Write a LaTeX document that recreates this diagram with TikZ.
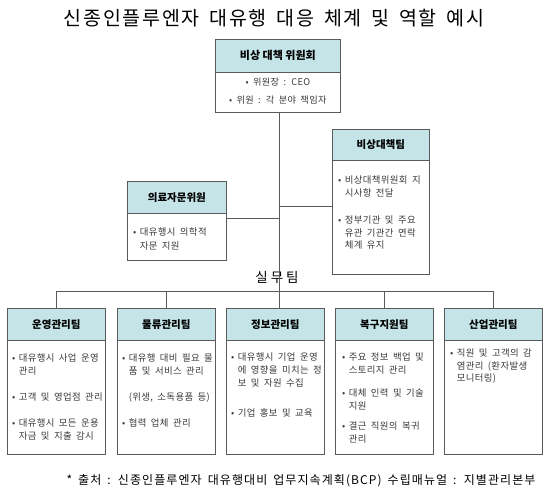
\documentclass[tikz,border=0pt]{standalone}
\usepackage{fontspec}
\setmainfont{Noto Sans CJK KR}
\newfontfamily\widefont{Noto Sans CJK KR}[LetterSpace=4, WordSpace=1.8]
\newfontfamily\titlefont{Noto Sans CJK KR}[LetterSpace=9, WordSpace=1.6]
\usetikzlibrary{positioning,calc}
\definecolor{hdrcyan}{HTML}{C4E4E8}
\definecolor{edge}{HTML}{5A5A5A}
\definecolor{txt}{HTML}{3A3A3A}
\newcommand{\bul}{\makebox[0.7em][l]{•}}
\newcommand{\ind}{\hspace*{0.7em}}
\tikzset{
  unit/.style  = {rectangle, draw=edge, fill=white, line width=0.7pt, anchor=north west,
                  inner sep=0pt, minimum width=98pt},
  head/.style  = {rectangle, draw=edge, fill=hdrcyan, line width=0.7pt, anchor=north,
                  inner sep=0pt, minimum width=98pt, minimum height=32pt,
                  font=\fontsize{10.5}{12}\selectfont\bfseries},
  duty/.style  = {anchor=north west, align=left, inner sep=0pt, text=txt,
                  font=\widefont\fontsize{9.4}{13}\selectfont},
  link/.style  = {draw=edge, line width=0.7pt},
}

\begin{document}
\begin{tikzpicture}[x=1pt, y=-1pt]
  \useasboundingbox (0,0) rectangle (550,500);
  % title
  \node (title) at (274,18) {\titlefont\fontsize{19.5}{22}\selectfont 신종인플루엔자 대유행 대응 체계 및 역할 예시};

  % committee
  \node[unit, minimum width=125pt, minimum height=73pt] (cmte) at (215,39) {};
  \node[head, minimum width=125pt, minimum height=33pt, font=\fontsize{11}{13}\selectfont\bfseries]
    (cmte-h) at (cmte.north) {비상 대책 위원회};
  \node[duty, anchor=north, align=center, font=\widefont\fontsize{9.2}{18}\selectfont] (cmte-d)
    at ([yshift=-39pt]cmte.north) {• 위원장 : CEO\\• 위원 : 각 분야 책임자};

  % emergency team and medical advisers
  \node[unit, minimum width=97pt, minimum height=145pt] (emer) at (332,129) {};
  \node[head, minimum width=97pt, minimum height=31pt] (emer-h) at (emer.north) {비상대책팀};
  \node[duty, font=\widefont\fontsize{9.4}{12.5}\selectfont] (emer-d) at ([xshift=6pt, yshift=-47pt]emer.north west)
    {\bul 비상대책위원회 지\\\ind 시사항 전달\\[15pt]\bul 정부기관 및 주요\\\ind 유관 기관간 연락\\\ind 체계 유지};

  \node[unit, minimum width=99pt, minimum height=79pt] (med) at (127,181) {};
  \node[head, minimum width=99pt, minimum height=32pt] (med-h) at (med.north) {의료자문위원};
  \node[duty, font=\widefont\fontsize{9.4}{14}\selectfont] (med-d) at ([xshift=6pt, yshift=-46pt]med.north west)
    {\bul 대유행시 의학적\\\ind 자문 지원};

  % working teams
  \node[font=\fontsize{13.5}{15}\selectfont] (work) at (277,277) {실 무 팀};
  \node[unit, minimum height=146pt] (ops)  at (7,308) {};
  \node[unit, minimum height=146pt] (log)  at (117,308) {};
  \node[unit, minimum height=146pt] (info) at (226,308) {};
  \node[unit, minimum height=146pt] (rec)  at (335,308) {};
  \node[unit, minimum height=146pt] (ind)  at (444,308) {};
  \node[head] (ops-h)  at (ops.north)  {운영관리팀};
  \node[head] (log-h)  at (log.north)  {물류관리팀};
  \node[head] (info-h) at (info.north) {정보관리팀};
  \node[head] (rec-h)  at (rec.north)  {복구지원팀};
  \node[head] (ind-h)  at (ind.north)  {산업관리팀};

  \node[duty] (ops-d) at ([xshift=5pt, yshift=-46pt]ops.north west)
    {\bul 대유행시 사업 운영\\\ind 관리\\[13pt]\bul 고객 및 영업점 관리\\[13pt]\bul 대유행시 모든 운용\\\ind 자금 및 지출 감시};
  \node[duty] (log-d) at ([xshift=5pt, yshift=-46pt]log.north west)
    {\bul 대유행 대비 필요 물\\\ind 품 및 서비스 관리\\[13pt]\ind(위생, 소독용품 등)\\[13pt]\bul 협력 업체 관리};
  \node[duty] (info-d) at ([xshift=5pt, yshift=-45pt]info.north west)
    {\bul 대유행시 기업 운영\\\ind 에 영향을 미치는 정\\\ind 보 및 자원 수집\\[17pt]\bul 기업 홍보 및 교육};
  \node[duty] (rec-d) at ([xshift=7pt, yshift=-45pt]rec.north west)
    {\bul 주요 정보 백업 및\\\ind 스토리지 관리\\[10pt]\bul 대체 인력 및 기술\\\ind 지원\\[7pt]\bul 결근 직원의 복귀\\\ind 관리};
  \node[duty, font=\widefont\fontsize{9.4}{12.5}\selectfont] (ind-d) at ([xshift=6pt, yshift=-41pt]ind.north west)
    {\bul 직원 및 고객의 감\\\ind 염관리 (환자발생\\\ind 모니터링)};

  % connectors
  \coordinate (spine) at (279,291);
  \draw[link] (cmte.south -| spine) -- (spine |- info.north);
  \draw[link] ([yshift=-5pt]emer.west) -- ([yshift=-5pt]emer.west -| spine);
  \draw[link] ([yshift=2pt]med.east) -- ([yshift=2pt]med.east -| spine);
  \draw[link] (ops.north) -- (ops.north |- spine) -- (ind.north |- spine) -- (ind.north);
  \draw[link] (log.north) -- (log.north |- spine);
  \draw[link] (rec.north) -- (rec.north |- spine);

  % source
  \node[anchor=east] (src) at (539,481) {\titlefont\fontsize{12}{13}\selectfont * 출처 : 신종인플루엔자 대유행대비 업무지속계획(BCP) 수립매뉴얼 : 지별관리본부};
\end{tikzpicture}
\end{document}
